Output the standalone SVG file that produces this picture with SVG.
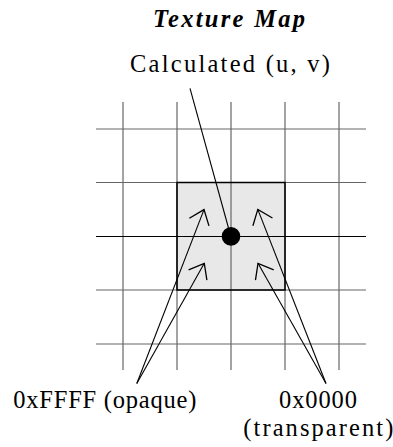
<svg xmlns="http://www.w3.org/2000/svg" width="393" height="447" viewBox="0 0 393 447">
<style>
.t{font-family:"Liberation Serif","Times New Roman",serif;font-size:24.5px;fill:#000}
.title{font-weight:bold;font-style:italic}
.g{stroke:#666;stroke-width:1.2;fill:none}
.c{stroke:#000;stroke-width:1.1;fill:none}
</style>
<defs>
<marker id="ah" markerUnits="userSpaceOnUse" viewBox="-15 -12 17 24" markerWidth="17" markerHeight="24" refX="0" refY="0" orient="auto" overflow="visible">
<path d="M-13.4,-10.5 L0,0 L-13.4,10.5" fill="none" stroke="#000" stroke-width="1.3"/>
</marker>
</defs>
<rect width="393" height="447" fill="#fff"/>
<g id="title"><text class="t title" x="153" y="26.5" textLength="152" lengthAdjust="spacing">Texture Map</text></g>
<g id="grid">
<rect x="177" y="182.5" width="108" height="107.5" fill="#e8e8e8" stroke="none"/>
<line class="g" x1="123" y1="102" x2="123" y2="370"/>
<line class="g" x1="177" y1="102" x2="177" y2="370"/>
<line class="g" x1="231" y1="102" x2="231" y2="370"/>
<line class="g" x1="285" y1="102" x2="285" y2="370"/>
<line class="g" x1="339" y1="102" x2="339" y2="370"/>
<line class="g" x1="96" y1="129" x2="366" y2="129"/>
<line class="g" x1="96" y1="182.5" x2="366" y2="182.5"/>
<line x1="96" y1="236.5" x2="366" y2="236.5" stroke="#000" stroke-width="1.2"/>
<line class="g" x1="96" y1="290" x2="366" y2="290"/>
<line class="g" x1="96" y1="344" x2="366" y2="344"/>
<rect x="177" y="182.5" width="108" height="107.5" fill="none" stroke="#000" stroke-width="1.5"/>
</g>
<g id="point">
<circle cx="231" cy="236.4" r="9.3" fill="#000"/>
</g>
<g id="label-uv"><text class="t" x="130" y="71.5" textLength="200" lengthAdjust="spacing">Calculated (u, v)</text></g>
<g id="label-opaque"><text class="t" x="13.3" y="408" textLength="183" lengthAdjust="spacing">0xFFFF (opaque)</text></g>
<g id="label-transparent">
<text class="t" x="279" y="407.5" textLength="78" lengthAdjust="spacing">0x0000</text>
<text class="t" x="243.3" y="436" textLength="150" lengthAdjust="spacing">(transparent)</text>
</g>
<g id="connectors">
<line class="c" x1="190" y1="88.3" x2="228.5" y2="228"/>
<line class="c" x1="136.8" y1="383.5" x2="204" y2="209.6" marker-end="url(#ah)"/>
<line class="c" x1="136.8" y1="383.5" x2="204.3" y2="263.3" marker-end="url(#ah)"/>
<line class="c" x1="326" y1="383.5" x2="257.8" y2="209.4" marker-end="url(#ah)"/>
<line class="c" x1="326" y1="383.5" x2="258" y2="263.3" marker-end="url(#ah)"/>
</g>
</svg>
